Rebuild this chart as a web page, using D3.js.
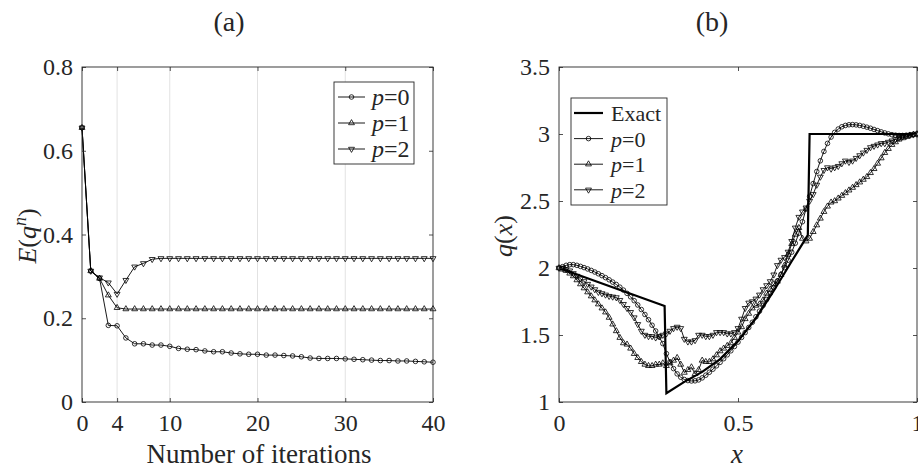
<!DOCTYPE html>
<html>
<head>
<meta charset="utf-8">
<script src="https://cdn.jsdelivr.net/npm/d3@7"></script>
<style>
  body { margin: 0; background: #fff; }
  text { font-family: "Liberation Serif", "Times New Roman", serif; fill: #262626; }
</style>
</head>
<body>
<script>

// (a) error against iterations
var iterations = d3.range(0, 41);
var errP0 = [0.655, 0.313, 0.295, 0.183, 0.182, 0.153, 0.139, 0.139, 0.136, 0.136,
             0.133, 0.128, 0.126, 0.125, 0.122, 0.120, 0.120, 0.117, 0.115, 0.114,
             0.114, 0.112, 0.112, 0.111, 0.110, 0.108, 0.105, 0.104, 0.104, 0.104,
             0.103, 0.102, 0.101, 0.100, 0.099, 0.099, 0.098, 0.098, 0.097, 0.096, 0.095];
var errP1 = [0.655, 0.313, 0.295, 0.255, 0.225, 0.222, 0.222, 0.222, 0.222, 0.222,
             0.222, 0.222, 0.222, 0.222, 0.222, 0.222, 0.222, 0.222, 0.222, 0.222,
             0.222, 0.222, 0.222, 0.222, 0.222, 0.222, 0.222, 0.222, 0.222, 0.222,
             0.222, 0.222, 0.222, 0.222, 0.222, 0.222, 0.222, 0.222, 0.222, 0.222, 0.222];
var errP2 = [0.655, 0.313, 0.297, 0.285, 0.258, 0.291, 0.323, 0.331, 0.341, 0.343,
             0.343, 0.343, 0.343, 0.343, 0.343, 0.343, 0.343, 0.343, 0.343, 0.343,
             0.343, 0.343, 0.343, 0.343, 0.343, 0.343, 0.343, 0.343, 0.343, 0.343,
             0.343, 0.343, 0.343, 0.343, 0.343, 0.343, 0.343, 0.343, 0.343, 0.343, 0.343];
var xTicksA = [0, 4, 10, 20, 30, 40];
var yTicksA = [0, 0.2, 0.4, 0.6, 0.8];
var gridA = [4, 10, 20, 30];

// (b) reconstructed q(x)
var xs = d3.range(0, 101).map(function(i) { return i / 100; });
var exactX = [0, 0.295, 0.30, 0.35, 0.40, 0.45, 0.50, 0.55, 0.60, 0.65, 0.695, 0.70, 1.0];
var exactQ = [2.0, 1.716, 1.065, 1.15, 1.225, 1.32, 1.455, 1.625, 1.83, 2.05, 2.245, 3.0, 3.0];
var qP0 = [2.000, 2.010, 2.020, 2.025, 2.025, 2.020, 2.012, 2.003, 1.993, 1.982,
           1.970, 1.957, 1.943, 1.928, 1.912, 1.895, 1.877, 1.857, 1.835, 1.811,
           1.785, 1.756, 1.724, 1.690, 1.653, 1.614, 1.573, 1.530, 1.485, 1.436,
           1.361, 1.300, 1.249, 1.210, 1.185, 1.168, 1.160, 1.157, 1.158, 1.165,
           1.180, 1.200, 1.222, 1.245, 1.270, 1.296, 1.323, 1.352, 1.382, 1.414,
           1.447, 1.482, 1.518, 1.556, 1.595, 1.636, 1.678, 1.721, 1.765, 1.810,
           1.856, 1.903, 1.952, 2.003, 2.058, 2.118, 2.185, 2.260, 2.345, 2.440,
           2.535, 2.630, 2.720, 2.800, 2.870, 2.930, 2.977, 3.012, 3.037, 3.054,
           3.064, 3.069, 3.070, 3.068, 3.064, 3.058, 3.051, 3.043, 3.034, 3.025,
           3.016, 3.008, 3.001, 2.995, 2.991, 2.989, 2.989, 2.991, 2.994, 2.998, 3.002];
var qP1 = [2.00, 1.99, 1.98, 1.96, 1.94, 1.91, 1.88, 1.85, 1.82, 1.79,
           1.76, 1.73, 1.70, 1.67, 1.63, 1.58, 1.53, 1.48, 1.44, 1.43,
           1.40, 1.36, 1.33, 1.30, 1.28, 1.27, 1.27, 1.28, 1.28, 1.29,
           1.27, 1.29, 1.31, 1.33, 1.28, 1.22, 1.24, 1.26, 1.21, 1.24,
           1.31, 1.30, 1.30, 1.32, 1.35, 1.38, 1.40, 1.42, 1.44, 1.48,
           1.52, 1.56, 1.62, 1.66, 1.70, 1.72, 1.73, 1.76, 1.81, 1.84,
           1.88, 1.90, 1.95, 2.02, 2.10, 2.18, 2.25, 2.30, 2.22, 2.20,
           2.22, 2.27, 2.32, 2.37, 2.42, 2.46, 2.49, 2.50, 2.52, 2.54,
           2.56, 2.58, 2.60, 2.62, 2.64, 2.66, 2.68, 2.71, 2.74, 2.78,
           2.82, 2.86, 2.89, 2.92, 2.94, 2.96, 2.97, 2.98, 2.99, 2.995, 3.00];
var qP2 = [2.00, 2.00, 1.99, 1.98, 1.96, 1.94, 1.92, 1.90, 1.88, 1.86,
           1.84, 1.82, 1.81, 1.80, 1.79, 1.785, 1.78, 1.76, 1.73, 1.70,
           1.67, 1.63, 1.58, 1.53, 1.50, 1.49, 1.49, 1.48, 1.49, 1.50,
           1.51, 1.53, 1.55, 1.56, 1.55, 1.47, 1.45, 1.45, 1.46, 1.50,
           1.50, 1.49, 1.49, 1.50, 1.52, 1.52, 1.52, 1.51, 1.51, 1.52,
           1.55, 1.62, 1.70, 1.74, 1.75, 1.77, 1.80, 1.84, 1.87, 1.90,
           1.95, 2.02, 2.06, 2.08, 2.12, 2.20, 2.30, 2.38, 2.42, 2.45,
           2.50, 2.55, 2.62, 2.68, 2.73, 2.75, 2.74, 2.75, 2.76, 2.78,
           2.80, 2.79, 2.80, 2.82, 2.84, 2.86, 2.88, 2.90, 2.91, 2.92,
           2.93, 2.93, 2.94, 2.95, 2.96, 2.97, 2.98, 2.985, 2.99, 2.995, 3.00];
var xTicksB = [0, 0.5, 1];
var yTicksB = [1, 1.5, 2, 2.5, 3, 3.5];

var svg = d3.select("body").append("svg")
    .attr("width", 918)
    .attr("height", 471);

svg.append("rect").attr("width", 918).attr("height", 471).attr("fill", "#fff");

var ink = "#262626";
var serif = "'Liberation Serif', 'Times New Roman', serif";

// markers
function drawMarkers(g, pts, kind) {
  if (kind == "o") {
    g.selectAll(null).data(pts).enter().append("circle")
      .attr("cx", function(d) { return d[0]; })
      .attr("cy", function(d) { return d[1]; })
      .attr("r", 2.3)
      .attr("fill", "none").attr("stroke", "#000").attr("stroke-width", 0.8);
  } else {
    var sym = d3.symbol().type(d3.symbolTriangle).size(15);
    g.selectAll(null).data(pts).enter().append("path")
      .attr("d", sym)
      .attr("transform", function(d) {
        return "translate(" + d[0] + "," + d[1] + ")" + (kind == "v" ? " rotate(180)" : "");
      })
      .attr("fill", "none").attr("stroke", "#000").attr("stroke-width", 0.8);
  }
}

function drawSeries(g, xsArr, ysArr, x, y, kind, width) {
  var pts = xsArr.map(function(v, i) { return [x(v), y(ysArr[i])]; });
  g.append("path")
    .attr("d", d3.line()(pts))
    .attr("fill", "none")
    .attr("stroke", "#000")
    .attr("stroke-width", width || 0.9);
  if (kind) drawMarkers(g, pts, kind);
}

function frame(x, y, xt, yt, fmtX, fmtY) {
  var g = svg.append("g");
  var x0 = x.range()[0], x1 = x.range()[1], y0 = y.range()[0], y1 = y.range()[1];
  g.append("g").attr("transform", "translate(0," + y0 + ")")
    .call(d3.axisBottom(x).tickValues(xt).tickSize(-4).tickPadding(12).tickFormat(fmtX));
  g.append("g").attr("transform", "translate(0," + y1 + ")")
    .call(d3.axisTop(x).tickValues(xt).tickSize(-4).tickFormat(""));
  g.append("g").attr("transform", "translate(" + x0 + ",0)")
    .call(d3.axisLeft(y).tickValues(yt).tickSize(-4).tickPadding(9).tickFormat(fmtY));
  g.append("g").attr("transform", "translate(" + x1 + ",0)")
    .call(d3.axisRight(y).tickValues(yt).tickSize(-4).tickFormat(""));
  g.selectAll(".domain").remove();
  g.selectAll(".tick line").attr("stroke", ink).attr("stroke-width", 0.8);
  g.selectAll(".tick text").attr("font-size", 24).attr("fill", ink)
    .style("font-family", serif);
  g.append("rect")
    .attr("x", x0).attr("y", y1)
    .attr("width", x1 - x0).attr("height", y0 - y1)
    .attr("fill", "none").attr("stroke", ink).attr("stroke-width", 0.9);
  return g;
}

// ---------- panel (a)
var xa = d3.scaleLinear().domain([0, 40]).range([82, 433]);
var ya = d3.scaleLinear().domain([0, 0.8]).range([402, 67]);

svg.append("g").selectAll("line").data(gridA).enter().append("line")
  .attr("x1", function(d) { return xa(d); }).attr("x2", function(d) { return xa(d); })
  .attr("y1", ya(0)).attr("y2", ya(0.8))
  .attr("stroke", "#e2e2e2").attr("stroke-width", 1);

var plotA = svg.append("g");
drawSeries(plotA, iterations, errP0, xa, ya, "o");
drawSeries(plotA, iterations, errP1, xa, ya, "^");
drawSeries(plotA, iterations, errP2, xa, ya, "v");

frame(xa, ya, xTicksA, yTicksA, d3.format("d"), function(d) { return d == 0 ? "0" : d3.format(".1f")(d); });

// legend (a)
var legA = svg.append("g");
legA.append("rect").attr("x", 334).attr("y", 82).attr("width", 80).attr("height", 82)
  .attr("fill", "#fff").attr("stroke", ink).attr("stroke-width", 0.9);
var legItemsA = [["o", "0"], ["^", "1"], ["v", "2"]];
legItemsA.forEach(function(it, i) {
  var yy = 97 + i * 26;
  legA.append("line").attr("x1", 338).attr("x2", 365).attr("y1", yy).attr("y2", yy)
    .attr("stroke", "#000").attr("stroke-width", 0.9);
  drawMarkers(legA, [[351.5, yy]], it[0]);
  var t = legA.append("text").attr("x", 372).attr("y", yy + 8).attr("font-size", 24);
  t.append("tspan").attr("font-style", "italic").text("p");
  t.append("tspan").text("=" + it[1]);
});

// titles and labels (a)
svg.append("text").attr("x", 229).attr("y", 31).attr("text-anchor", "middle")
  .attr("font-size", 28).text("(a)");
svg.append("text").attr("x", 259).attr("y", 463).attr("text-anchor", "middle")
  .attr("font-size", 27).text("Number of iterations");
var ylabA = svg.append("text")
  .attr("transform", "translate(36,236) rotate(-90)")
  .attr("text-anchor", "middle").attr("font-size", 26);
ylabA.append("tspan").attr("font-style", "italic").text("E");
ylabA.append("tspan").text("(");
ylabA.append("tspan").attr("font-style", "italic").text("q");
ylabA.append("tspan").attr("font-style", "italic").attr("font-size", 18).attr("dy", -10).text("n");
ylabA.append("tspan").attr("dy", 10).text(")");

// ---------- panel (b)
var xb = d3.scaleLinear().domain([0, 1]).range([559, 917]);
var yb = d3.scaleLinear().domain([1, 3.5]).range([402, 67]);

var plotB = svg.append("g");
drawSeries(plotB, exactX, exactQ, xb, yb, null, 2.2);
drawSeries(plotB, xs, qP0, xb, yb, "o");
drawSeries(plotB, xs, qP1, xb, yb, "^");
drawSeries(plotB, xs, qP2, xb, yb, "v");

frame(xb, yb, xTicksB, yTicksB, function(d) { return String(d); }, function(d) { return String(d); });

var legB = svg.append("g");
legB.append("rect").attr("x", 571).attr("y", 98).attr("width", 96).attr("height", 107)
  .attr("fill", "#fff").attr("stroke", ink).attr("stroke-width", 0.9);
var legItemsB = [[null, "Exact"], ["o", "0"], ["^", "1"], ["v", "2"]];
legItemsB.forEach(function(it, i) {
  var yy = 113 + i * 25.6;
  legB.append("line").attr("x1", 574).attr("x2", 603).attr("y1", yy).attr("y2", yy)
    .attr("stroke", "#000").attr("stroke-width", it[0] ? 0.9 : 2.2);
  var t = legB.append("text").attr("x", 611).attr("y", yy + 8).attr("font-size", 22);
  if (it[0]) {
    drawMarkers(legB, [[588.5, yy]], it[0]);
    t.append("tspan").attr("font-style", "italic").text("p");
    t.append("tspan").text("=" + it[1]);
  } else {
    t.text(it[1]);
  }
});

svg.append("text").attr("x", 712).attr("y", 31).attr("text-anchor", "middle")
  .attr("font-size", 28).text("(b)");
svg.append("text").attr("x", 737).attr("y", 463).attr("text-anchor", "middle")
  .attr("font-size", 27).attr("font-style", "italic").text("x");
var ylabB = svg.append("text")
  .attr("transform", "translate(512,236) rotate(-90)")
  .attr("text-anchor", "middle").attr("font-size", 26);
ylabB.append("tspan").attr("font-style", "italic").text("q");
ylabB.append("tspan").text("(");
ylabB.append("tspan").attr("font-style", "italic").text("x");
ylabB.append("tspan").text(")");

</script>
</body>
</html>
